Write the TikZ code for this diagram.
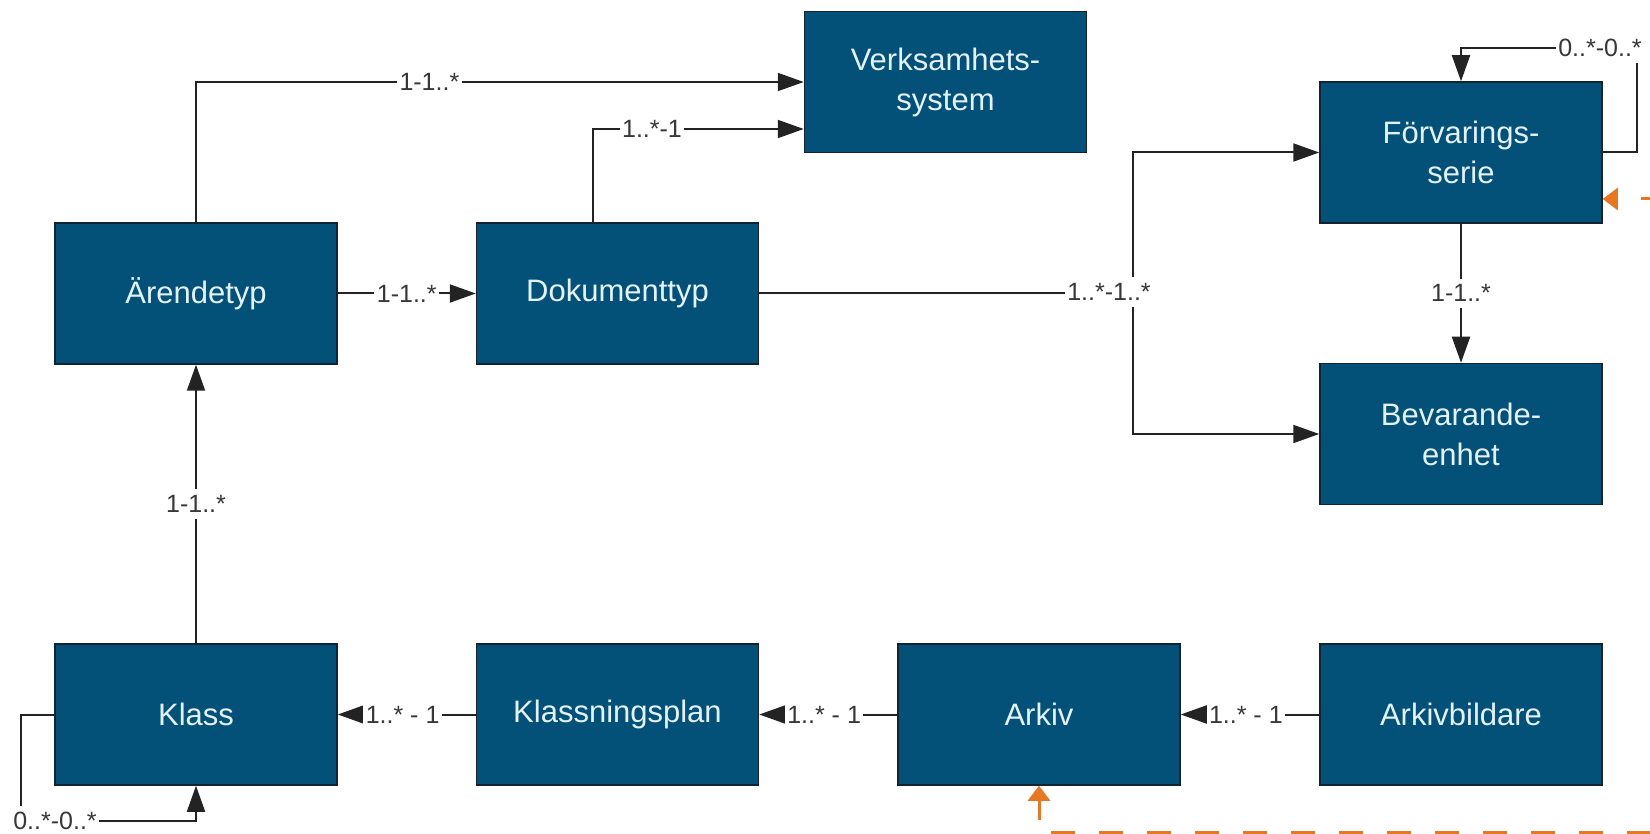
\documentclass[tikz,border=0pt]{standalone}
\usepackage{fontspec}
\setmainfont{Liberation Sans}
\usetikzlibrary{arrows.meta,calc}
\definecolor{boxblue}{RGB}{3,80,120}
\definecolor{boxedge}{RGB}{20,35,50}
\definecolor{boxtext}{RGB}{228,242,252}
\definecolor{lblgray}{RGB}{55,55,55}
\definecolor{linegray}{RGB}{35,35,35}
\definecolor{orangeline}{RGB}{232,119,34}
\begin{document}
\begin{tikzpicture}[x=1pt,y=-1pt,
  entity/.style={draw=boxedge, line width=1.5pt, fill=boxblue, text=boxtext,
    minimum width=282pt, minimum height=141pt, inner sep=0pt, align=center,
    font=\fontsize{31}{40}\selectfont},
  conn/.style={draw=linegray, line width=2pt, -{Triangle[length=26pt,width=18pt]}},
  plainconn/.style={draw=linegray, line width=2pt},
  lbl/.style={fill=white, text=lblgray, inner xsep=2.5pt, inner ysep=6pt, font=\fontsize{25}{30}\selectfont},
  assoc/.style={draw=orangeline, line width=3pt, dash pattern=on 24pt off 24pt, dash phase=24pt,
    {Triangle[length=15pt,width=22pt]}-{Triangle[length=15pt,width=22pt]}}
]
\path[use as bounding box] (0,0) rectangle (1650,834);
\clip (0,0) rectangle (1650,834);

% entities
\node[entity] (aren)  at (196,293.5)   {Ärendetyp};
\node[entity] (dok)   at (617.5,293.5) {Dokumenttyp};
\node[entity] (verk)  at (945.5,82)    {Verksamhets-\\system};
\node[entity] (forv)  at (1461,152.5)  {Förvarings-\\serie};
\node[entity] (bev)   at (1461,434)    {Bevarande-\\enhet};
\node[entity] (klass) at (196,714.5)   {Klass};
\node[entity] (kplan) at (617.5,714.5) {Klassningsplan};
\node[entity] (arkiv) at (1039,714.5)  {Arkiv};
\node[entity] (arkb)  at (1461,714.5)  {Arkivbildare};

% helper coordinates
\coordinate (d1) at ($(dok.north)+(-24.5,0)$);
\coordinate (v2) at ($(verk.west)+(0,47)$);
\coordinate (split) at (1133,293.5);
\coordinate (floop) at (1637,48);
\coordinate (kloop) at (21,821);
\coordinate (fo) at ($(forv.east)+(0,46.5)$);
\coordinate (o1) at (1689.5,199);
\coordinate (o2) at (1689.5,832);

% connectors
\draw[conn] (aren.north) |- (verk.west) node[lbl,pos=0.692] (l1) {1-1..*};
\draw[conn] (d1) |- (v2) node[lbl,pos=0.64] (l2) {1..*-1};
\draw[conn] (aren.east) -- (dok.west) node[lbl,midway] (l3) {1-1..*};
\draw[plainconn] (dok.east) -- (split);
\draw[conn] (split) |- (forv.west);
\draw[conn] (split) |- (bev.west);
\node[lbl] (l4) at (1109,292) {1..*-1..*};
\draw[conn] (forv.south) -- (bev.north) node[lbl,midway] (l5) {1-1..*};
\draw[conn] (forv.east) -| (floop) -| (forv.north);
\node[lbl] (l6) at (1600,48) {0..*-0..*};
\draw[conn] (klass.north) -- (aren.south) node[lbl,midway] (l7) {1-1..*};
\draw[conn] (klass.west) -| (kloop) -| (klass.south);
\node[lbl] (l8) at (55,821) {0..*-0..*};
\draw[conn] (kplan.west) -- (klass.east) node[lbl,pos=0.53] (l9) {1..* - 1};
\draw[conn] (arkiv.west) -- (kplan.east) node[lbl,pos=0.53] (l10) {1..* - 1};
\draw[conn] (arkb.west) -- (arkiv.east) node[lbl,pos=0.53] (l11) {1..* - 1};

% orange association (runs off the picture)
\draw[assoc] (fo) -- (o1) -- (o2) -| (arkiv.south);
\end{tikzpicture}
\end{document}
